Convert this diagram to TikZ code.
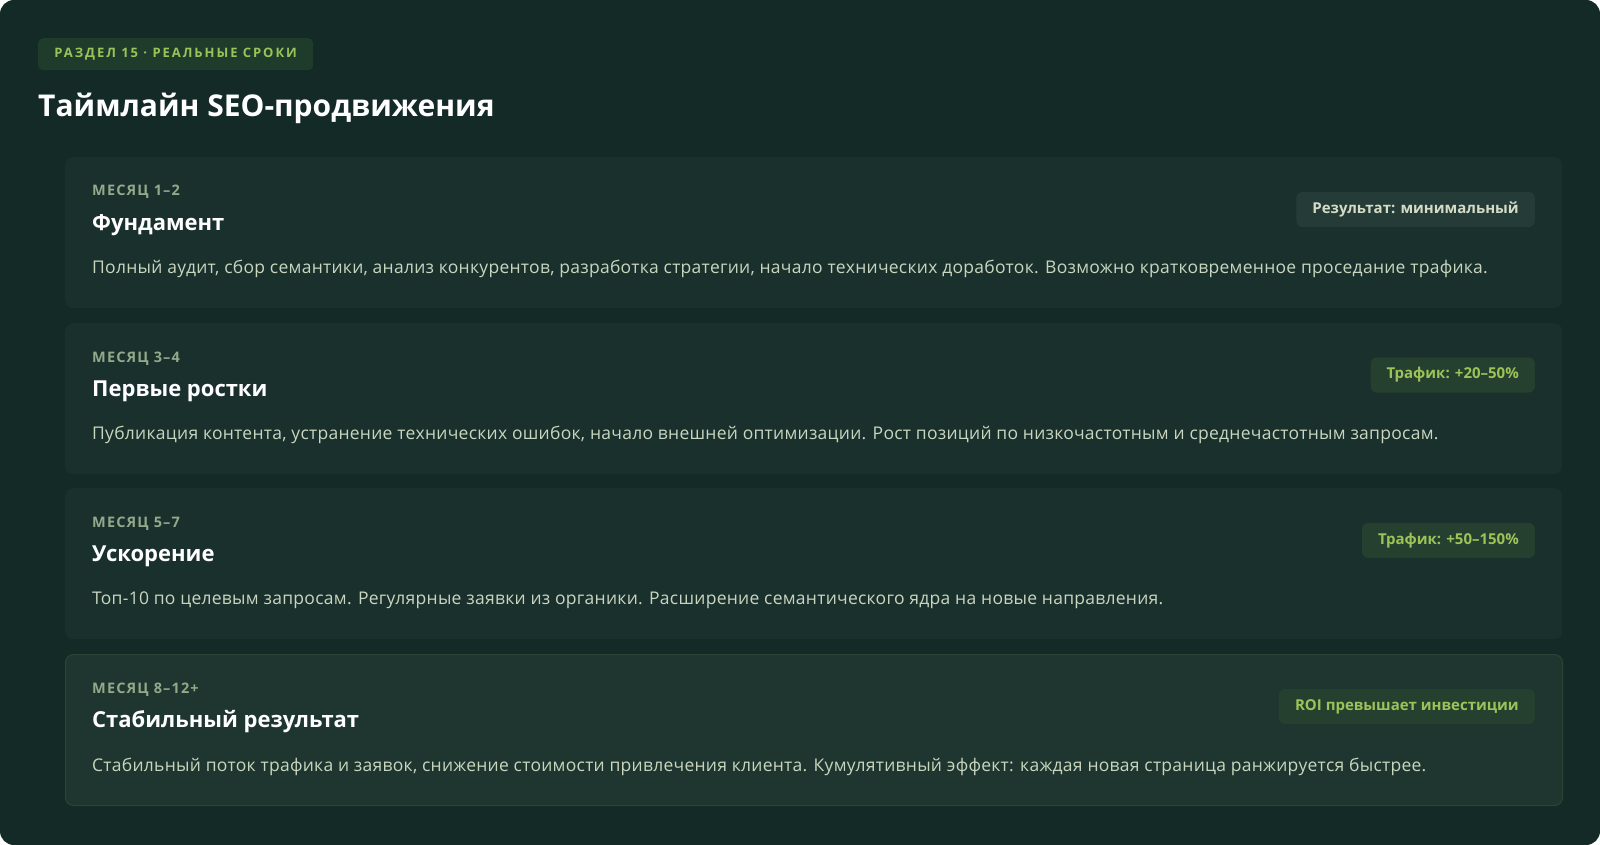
\documentclass[tikz,border=0pt]{standalone}
\usepackage{fontspec}
\setmainfont{Open Sans}
\usepackage{tikz}

\definecolor{bgcol}{HTML}{132A27}
\definecolor{cardcol}{HTML}{1A302D}
\definecolor{lastcol}{HTML}{1E362F}
\definecolor{lastline}{HTML}{2A4534}
\definecolor{tagcol}{HTML}{1F3B2C}
\definecolor{limecol}{HTML}{9CC25A}
\definecolor{monthcol}{HTML}{93A98A}
\definecolor{desccol}{HTML}{C9D6BF}
\definecolor{greybadge}{HTML}{243B37}
\definecolor{greytext}{HTML}{D4DCC6}
\definecolor{greenbadge}{HTML}{26402F}

\begin{document}
\begin{tikzpicture}[x=1pt, y=-1pt,
    card/.style={fill=cardcol, rounded corners=8pt, minimum width=1497pt, minimum height=151pt, anchor=north west, inner sep=0pt},
    month/.style={anchor=base west, inner sep=0pt, text=monthcol, font=\fontsize{14.5}{17}\selectfont\bfseries\addfontfeature{LetterSpace=8}},
    stage/.style={anchor=base west, inner sep=0pt, text=white, font=\fontsize{22}{26}\selectfont\bfseries},
    desc/.style={anchor=base west, inner sep=0pt, text=desccol, font=\fontsize{17.5}{21}\selectfont\addfontfeature{LetterSpace=1.5}},
    badge/.style={anchor=east, rounded corners=6pt, minimum height=35pt, inner xsep=16pt, inner ysep=0pt, font=\fontsize{15}{18}\selectfont\bfseries},
    result/.style={badge, fill=greybadge, text=greytext},
    gain/.style={badge, fill=greenbadge, text=limecol}]

    % Background
    \fill[bgcol, rounded corners=14pt] (0,0) rectangle (1600,845);
    \useasboundingbox (0,0) rectangle (1600,845);

    % Header
    \node[fill=tagcol, rounded corners=5pt, anchor=north west, minimum width=275pt, minimum height=32pt, text=limecol, font=\fontsize{13}{15}\selectfont\bfseries\addfontfeature{LetterSpace=15}] (tag) at (38,38) {РАЗДЕЛ 15 · РЕАЛЬНЫЕ СРОКИ};
    \node[anchor=base west, inner sep=0pt, text=white, font=\fontsize{30}{36}\selectfont\bfseries] (title) at (38,117) {Таймлайн SEO-продвижения};

    % Cards
    \node[card] (c1) at (65,157) {};
    \node[card] (c2) at (65,323) {};
    \node[card] (c3) at (65,488) {};
    \node[card, fill=lastcol, draw=lastline, line width=1pt] (c4) at (65,654) {};

    % Card 1
    \node[month] (m1) at (92,196) {МЕСЯЦ 1–2};
    \node[stage] (s1) at (92,230.5) {Фундамент};
    \node[desc] (d1) at (92,273) {Полный аудит, сбор семантики, анализ конкурентов, разработка стратегии, начало технических доработок. Возможно кратковременное проседание трафика.};
    \node[result] (b1) at (1535,209.5) {Результат: минимальный};

    % Card 2
    \node[month] (m2) at (92,362) {МЕСЯЦ 3–4};
    \node[stage] (s2) at (92,396.5) {Первые ростки};
    \node[desc] (d2) at (92,439) {Публикация контента, устранение технических ошибок, начало внешней оптимизации. Рост позиций по низкочастотным и среднечастотным запросам.};
    \node[gain] (b2) at (1535,375) {Трафик: +20–50\%};

    % Card 3
    \node[month] (m3) at (92,527) {МЕСЯЦ 5–7};
    \node[stage] (s3) at (92,561.5) {Ускорение};
    \node[desc] (d3) at (92,604) {Топ-10 по целевым запросам. Регулярные заявки из органики. Расширение семантического ядра на новые направления.};
    \node[gain] (b3) at (1535,540.5) {Трафик: +50–150\%};

    % Card 4
    \node[month] (m4) at (92,693) {МЕСЯЦ 8–12+};
    \node[stage] (s4) at (92,727.5) {Стабильный результат};
    \node[desc] (d4) at (92,771) {Стабильный поток трафика и заявок, снижение стоимости привлечения клиента. Кумулятивный эффект: каждая новая страница ранжируется быстрее.};
    \node[gain] (b4) at (1535,706.5) {ROI превышает инвестиции};

\end{tikzpicture}
\end{document}
